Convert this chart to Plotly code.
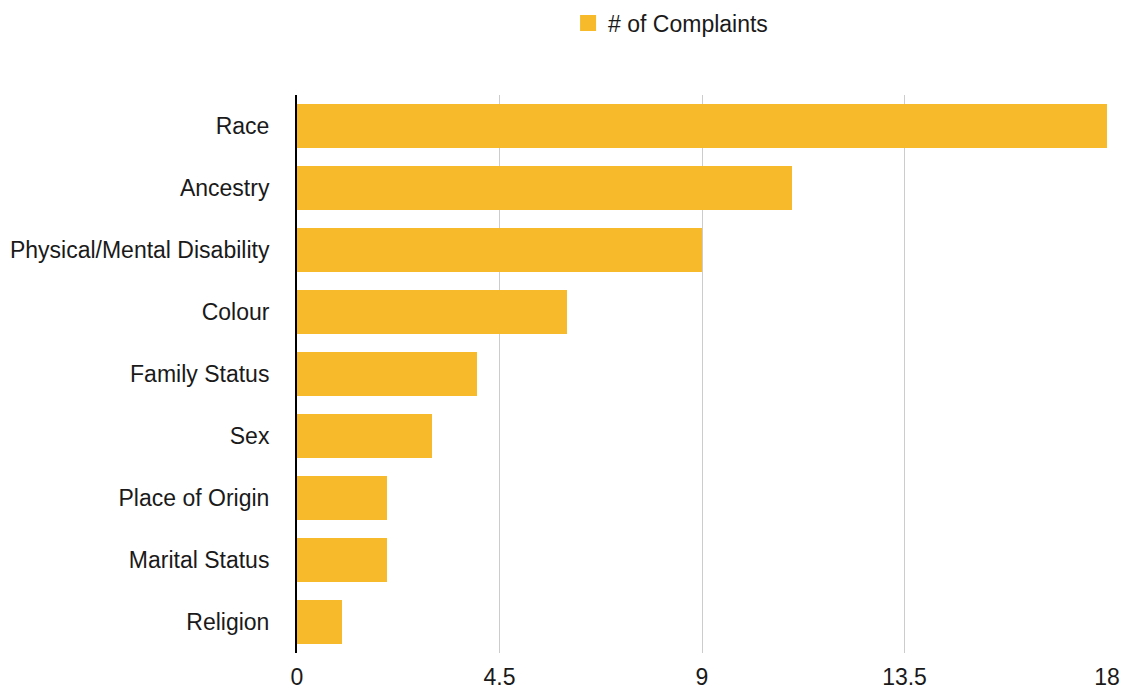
import plotly.graph_objects as go

categories = ["Race", "Ancestry", "Physical/Mental Disability", "Colour", "Family Status",
              "Sex", "Place of Origin", "Marital Status", "Religion"]
complaints = [18, 11, 9, 6, 4, 3, 2, 2, 1]
x_ticks = [0, 4.5, 9, 13.5, 18]
x_tick_labels = ["0", "4.5", "9", "13.5", "18"]
series_name = "# of Complaints"

BAR_COLOR = "#F7BA2A"
FONT = "Liberation Sans, Arial, Helvetica, sans-serif"

fig = go.Figure()
fig.add_trace(go.Bar(
    y=categories, x=complaints, orientation="h",
    marker=dict(color=BAR_COLOR, line=dict(width=0)),
    name=series_name, showlegend=False,
))
# legend proxy with larger square symbol
fig.add_trace(go.Scatter(
    x=[None], y=[None], mode="markers",
    marker=dict(symbol="square", size=22, color=BAR_COLOR),
    name=series_name, showlegend=True,
))

fig.update_layout(
    width=1127, height=689,
    margin=dict(l=297, r=20, t=95, b=36),
    paper_bgcolor="white", plot_bgcolor="white",
    font=dict(family=FONT, size=23, color="#1a1a1a"),
    bargap=0.29,
    legend=dict(
        orientation="h", xref="container", yref="container",
        x=0.595, xanchor="center", y=1 - 23 / 689, yanchor="middle",
        font=dict(size=23), itemsizing="trace",
    ),
    xaxis=dict(
        range=[0, 18], tickvals=x_ticks, ticktext=x_tick_labels,
        showgrid=True, gridcolor="#cccccc", gridwidth=1,
        zeroline=False, showline=False, ticks="", ticklabelstandoff=8,
        automargin=False,
    ),
    yaxis=dict(
        categoryorder="array", categoryarray=categories, autorange="reversed",
        showgrid=False, zeroline=False, showline=True, linecolor="black", linewidth=2,
        ticks="", ticklabelstandoff=21, automargin=False,
    ),
)

fig.write_html("out.html")
